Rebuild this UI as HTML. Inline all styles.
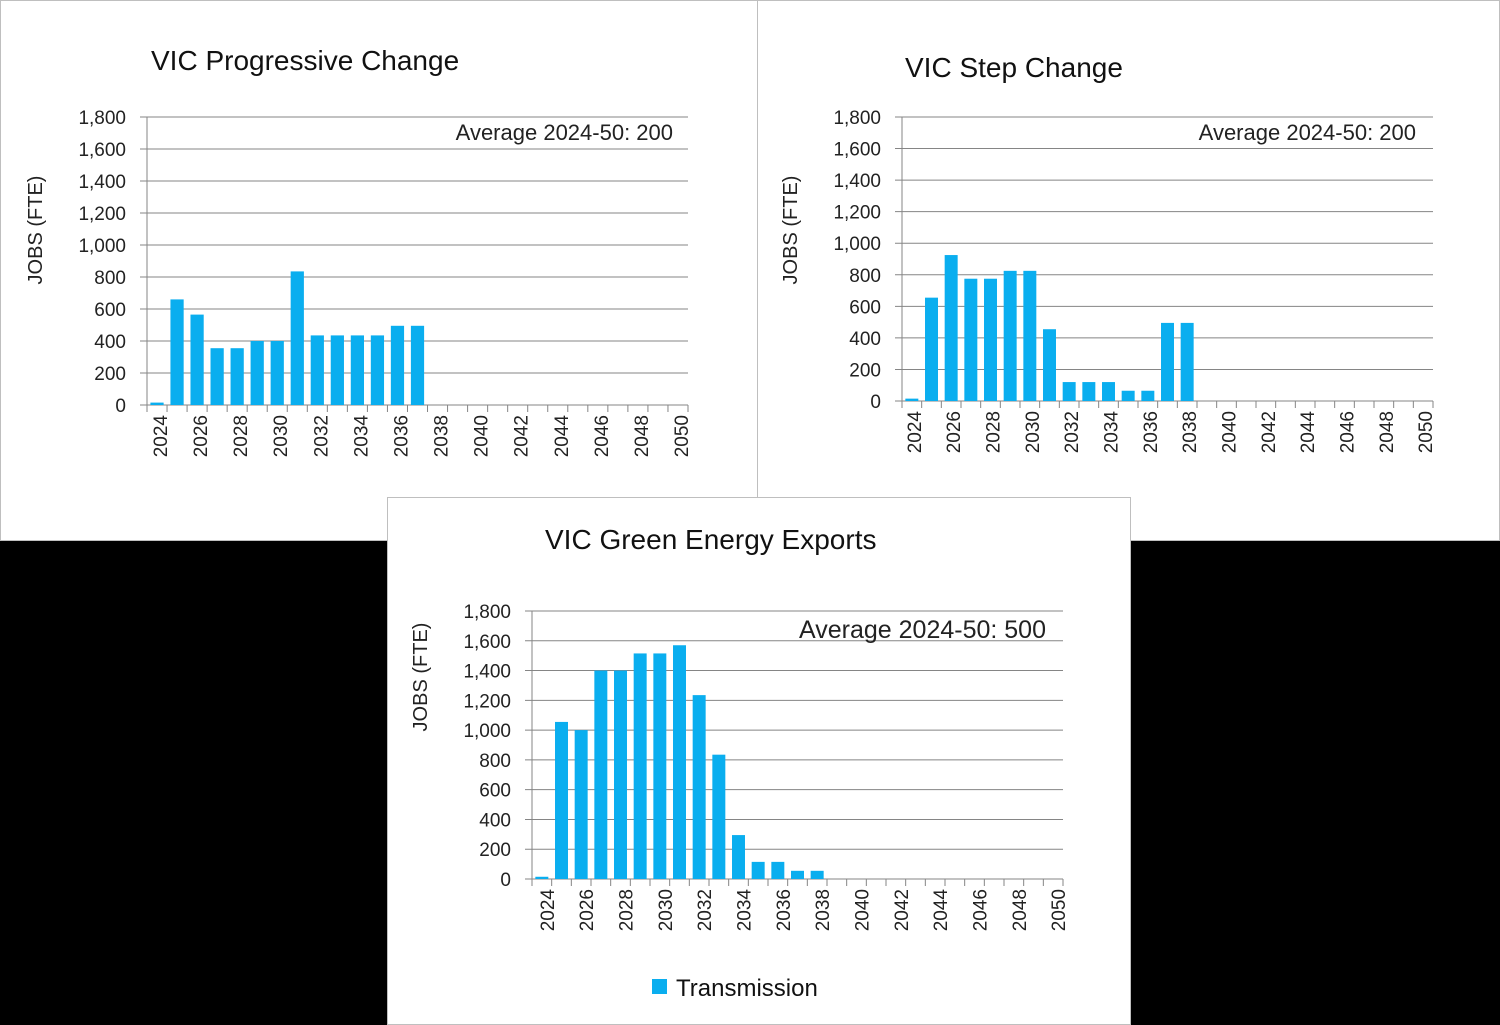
<!DOCTYPE html>
<html><head><meta charset="utf-8"><style>
body{margin:0;width:1500px;height:1025px;background:#000;position:relative;overflow:hidden;font-family:"Liberation Sans",sans-serif}
.panel{position:absolute;background:#fff;border:1px solid #bfbfbf;box-sizing:border-box}
svg{position:absolute;left:0;top:0}
</style></head><body>
<div class="panel" style="left:0;top:0;width:758px;height:541px"></div>
<div class="panel" style="left:757px;top:0;width:743px;height:541px"></div>
<div class="panel" style="left:387px;top:497px;width:744px;height:528px"></div>
<svg id="s" width="1500" height="1025"></svg>
<script>
const years = [];
for (let y = 2024; y <= 2050; y++) years.push(y);
const yTicks = [0,200,400,600,800,1000,1200,1400,1600,1800];
const yTickLabels = ["0","200","400","600","800","1,000","1,200","1,400","1,600","1,800"];
const progValues = [15,660,565,355,355,400,400,835,435,435,435,435,495,495,0,0,0,0,0,0,0,0,0,0,0,0,0];
const stepValues = [15,655,925,775,775,825,825,455,120,120,120,65,65,495,495,0,0,0,0,0,0,0,0,0,0,0,0];
const geeValues = [15,1055,1000,1400,1400,1515,1515,1570,1235,835,295,115,115,55,55,0,0,0,0,0,0,0,0,0,0,0,0];
const titles = ["VIC Progressive Change","VIC Step Change","VIC Green Energy Exports"];
const averages = ["Average 2024-50: 200","Average 2024-50: 200","Average 2024-50: 500"];

const svg = document.getElementById('s');
const NS = 'http://www.w3.org/2000/svg';
function mk(tag, attrs, parent){const e=document.createElementNS(NS,tag);for(const k in attrs)e.setAttribute(k,attrs[k]);(parent||svg).appendChild(e);return e;}

function chart(cfg){
  const g = mk('g',{});
  
  
  const n = years.length;
  const xs = i => cfg.L + (cfg.R-cfg.L)*i/n;
  const ys = v => cfg.B - (cfg.B-cfg.T)*v/1800;
  const t = mk('text',{x:cfg.tx,y:cfg.ty,'font-size':28,fill:'#111'},g);
  t.textContent = cfg.title;
  
  
  yTicks.forEach((v,i)=>{
    const ln = mk('line',{x1:cfg.L-7,x2:cfg.R,y1:ys(v),y2:ys(v),stroke:'#858585','stroke-width':1},g);
    
    
    const lb = mk('text',{x:cfg.L-21,y:ys(v)+7,'font-size':19,'text-anchor':'end',fill:'#222'},g);
    lb.textContent = yTickLabels[i];
    
    
  });
  mk('line',{x1:cfg.L,x2:cfg.L,y1:cfg.T,y2:cfg.B+6,stroke:'#858585'},g);
  const yt = mk('text',{transform:`translate(${cfg.L-105},${cfg.yc}) rotate(-90)`,'font-size':20,'text-anchor':'middle',fill:'#222'},g);
  yt.textContent='JOBS (FTE)';
  
  
  for(let i=0;i<=n;i++){ mk('line',{x1:xs(i),x2:xs(i),y1:cfg.B,y2:cfg.B+7,stroke:'#858585'},g); }
  years.forEach((yr,i)=>{
    const w = (cfg.R-cfg.L)/n;
    const v = cfg.values[i];
    if(v>0){
      const r = mk('rect',{x:xs(i)+w*0.17,width:w*0.66,y:ys(v),height:cfg.B-ys(v),fill:'#0aaeef'},g);
      
      
    }
    if(i%2===0){
      const cx = xs(i)+w/2+cfg.lo;
      const lb = mk('text',{transform:`translate(${cx},${cfg.B+10}) rotate(-90)`,'font-size':19,'text-anchor':'end',fill:'#222'},g);
      lb.textContent = yr;
      
      
    }
  });
  const av = mk('text',{x:cfg.ax,y:cfg.ay,'font-size':cfg.af,'text-anchor':'end',fill:'#222'},g);
  av.textContent = cfg.avg;
  
  
}
chart({name:'chart-progressive-change',title:titles[0],avg:averages[0],values:progValues,L:147,R:688,T:117,B:405,tx:151,ty:70,ax:673,ay:140,af:22,yc:230,lo:10});
chart({name:'chart-step-change',title:titles[1],avg:averages[1],values:stepValues,L:902,R:1433,T:117,B:401,tx:905,ty:77,ax:1416,ay:140,af:22,yc:230,lo:9});
chart({name:'chart-green-energy-exports',title:titles[2],avg:averages[2],values:geeValues,L:532,R:1063,T:611,B:879,tx:545,ty:549,ax:1046,ay:638,af:25,yc:677,lo:12});
const lg = mk('rect',{x:652,y:979,width:15,height:15,fill:'#0aaeef'});


const lt = mk('text',{x:676,y:996,'font-size':24,fill:'#111'});
lt.textContent='Transmission';


</script>
</body></html>
